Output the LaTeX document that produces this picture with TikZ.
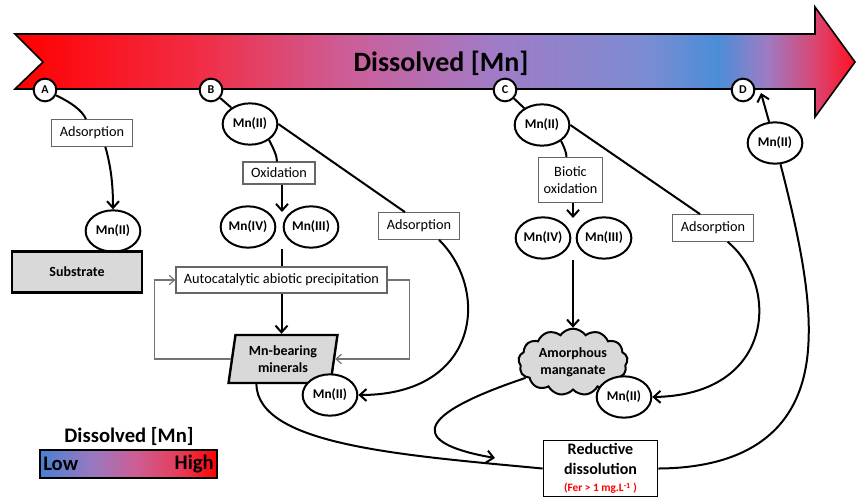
\documentclass[tikz,border=0pt]{standalone}
\usepackage{fontspec}
\setmainfont{Carlito}
\usetikzlibrary{shapes.geometric,shapes.symbols,arrows.meta,calc}

\definecolor{mngrey}{HTML}{D9D9D9}
\definecolor{flowA}{HTML}{FF0000}
\definecolor{flowB}{HTML}{F22D45}
\definecolor{flowC}{HTML}{CC5E98}
\definecolor{flowD}{HTML}{A07CC8}
\definecolor{flowE}{HTML}{7C8CD2}
\definecolor{flowF}{HTML}{4A8ED8}
\definecolor{flowG}{HTML}{9C7CC4}
\definecolor{flowH}{HTML}{DC4470}
\definecolor{flowI}{HTML}{FF1020}
\definecolor{scaleA}{HTML}{4A7FD3}
\definecolor{scaleB}{HTML}{9A78C0}
\definecolor{scaleC}{HTML}{CC5E95}
\definecolor{scaleD}{HTML}{E83A55}

\pgfdeclarehorizontalshading{mnflow}{100bp}{color(0bp)=(flowA); color(25bp)=(flowA);
  color(36bp)=(flowB); color(44.8bp)=(flowC); color(53.7bp)=(flowD); color(62.6bp)=(flowE);
  color(66.8bp)=(flowF); color(69.7bp)=(flowG); color(72.7bp)=(flowH); color(75bp)=(flowI);
  color(100bp)=(flowI)}
\pgfdeclarehorizontalshading{mnscale}{100bp}{color(0bp)=(scaleA); color(25bp)=(scaleA);
  color(40bp)=(scaleB); color(52bp)=(scaleC); color(65bp)=(scaleD); color(75bp)=(flowA);
  color(100bp)=(flowA)}

\begin{document}
\begin{tikzpicture}[x=0.75pt,y=-0.75pt,
  conn/.style={line width=1.5pt},
  flowarr/.style={conn,-{Straight Barb[length=5pt,width=9pt]}},
  loopline/.style={draw=black!55,line width=0.9pt,-{Straight Barb[length=4pt,width=7pt]}},
  letter/.style={circle,draw,line width=1.5pt,fill=white,minimum size=17pt,inner sep=0pt,
    font=\bfseries\fontsize{9}{10}\selectfont},
  mnion/.style={ellipse,draw,line width=1.5pt,fill=white,minimum width=41pt,minimum height=31pt,
    inner sep=0pt,font=\bfseries\fontsize{10}{12}\selectfont},
  process/.style={rectangle,draw=black!60,line width=0.8pt,fill=white,minimum height=20pt,
    inner xsep=6pt,align=center,font=\fontsize{10.7}{13}\selectfont},
  mineral/.style={draw,line width=1.8pt,fill=mngrey,align=center,
    font=\bfseries\fontsize{10.5}{12.5}\selectfont},
  legendtext/.style={font=\bfseries\fontsize{15.5}{18}\selectfont,inner sep=0pt}
]
\useasboundingbox (0,0) rectangle (859,499);

% dissolved Mn band
\shadedraw[shading=mnflow,line width=1.2pt] (15,34) -- (815,34) -- (815,7) -- (855,62)
  -- (815,117) -- (815,89) -- (15,89) -- (43,62) -- cycle;
\node[font=\bfseries\fontsize{21}{24}\selectfont] (flow) at (441,63) {Dissolved [Mn]};

\node[letter] (lA) at (45,90) {A};
\node[letter] (lB) at (211,90) {B};
\node[letter] (lC) at (505,90) {C};
\node[letter] (lD) at (743,90) {D};

% A
\node[process] (adsA) at (92,133) {Adsorption};
\node[mnion] (mA) at (113,231) {Mn(II)};
\node[mineral,minimum width=97.5pt,minimum height=31pt] (sub) at (77,272) {Substrate};

% B
\node[mnion] (mB) at (250,124) {Mn(II)};
\node[process,minimum height=16.5pt] (oxid) at (279,173) {Oxidation};
\node[mnion] (mB4) at (248,227) {Mn(IV)};
\node[mnion] (mB3) at (311,227) {Mn(III)};
\coordinate (gapB) at (282,212);
\coordinate (gapBlo) at (282,249);
\node[process,minimum height=19.5pt] (auto) at (281.5,280) {Autocatalytic abiotic precipitation};
\node[mineral,trapezium,trapezium left angle=80,trapezium right angle=100,trapezium stretches=true,
  minimum width=82pt,minimum height=36pt,inner sep=1pt] (para) at (283,359) {Mn-bearing\\minerals};
\node[mnion] (mBmin) at (330,395) {Mn(II)};
\node[process] (adsB) at (419,226) {Adsorption};

% C
\node[mnion] (mC) at (542,125) {Mn(II)};
\node[process,minimum height=34pt,inner xsep=4pt] (bio) at (570.5,180) {Biotic\\oxidation};
\node[mnion] (mC4) at (543,238) {Mn(IV)};
\node[mnion] (mC3) at (604,238) {Mn(III)};
\coordinate (gapC) at (573,218);
\coordinate (gapClo) at (573,260);
\node[mineral,cloud,cloud puffs=13,cloud puff arc=110,cloud ignores aspect,line width=1.5pt,
  minimum width=82pt,minimum height=50pt,inner sep=0pt] (cloud) at (573,362) {Amorphous\\manganate};
\node[mnion] (mCam) at (624,397) {Mn(II)};
\node[process] (adsC) at (713,228) {Adsorption};
\coordinate (cloudEnd) at (495,458);

% D
\node[mnion] (mD) at (775,143) {Mn(II)};
\coordinate (dTip) at (761,93);
\node[draw,line width=0.9pt,fill=white,anchor=north,minimum width=86pt,inner ysep=2pt,align=center,
  font=\bfseries\fontsize{12}{15}\selectfont] (red) at (600.5,440)
  {Reductive\\dissolution\\[-2pt]{\color{red}\fontsize{8.5}{10}\selectfont(Fer > 1 mg.L\textsuperscript{-1} )}};

% connectors
\draw[conn] (lA) .. controls (70,102) and (82,110) .. ([xshift=-4.5pt]adsA.north);
\draw[flowarr] ([xshift=10pt]adsA.south) .. controls (112,170) and (113,190) .. (mA.north);

\draw[conn] (lB) -- (mB);
\draw[conn] (mB.-40) .. controls +(4,8) and +(0,-6) .. ([xshift=-1.5pt]oxid.north);
\draw[flowarr] (oxid.south -| gapB) -- (gapB);
\draw[conn] (gapBlo) -- (gapBlo |- auto.north);
\draw[flowarr] (auto.south) -- (auto.south |- para.north);
\draw[loopline] (auto.east) -- ++(22,0) |- (para.east);
\draw[loopline] (para.west) -| ([xshift=-15.75pt]auto.west) -- (auto.west);
\draw[conn] (mB.east) -- ([xshift=-10.5pt]adsB.north);
\draw[flowarr] ([xshift=15pt]adsB.south) .. controls (490,290) and (480,395) .. (mBmin.east);
\draw[conn] ([xshift=-20pt]para.south) .. controls (258,445) and (400,455) .. (red.west);

\draw[conn] (lC) -- (mC);
\draw[conn] (mC.-40) .. controls +(3,6) and +(0,-4) .. ([xshift=-3pt]bio.north);
\draw[flowarr] (bio.south -| gapC) -- (gapC);
\draw[flowarr] (gapClo) -- (cloud.north);
\draw[conn] (mC.east) -- ([xshift=-9.75pt]adsC.north);
\draw[flowarr] ([xshift=11pt]adsC.south) .. controls (780,285) and (775,395) .. (mCam.east);
\draw[flowarr] (cloud) .. controls (400,420) and (420,445) .. (cloudEnd);

\draw[flowarr] (mD) -- (dTip);
\draw[conn] (mD) .. controls (800,240) and (812,300) .. (808,350)
  .. controls (800,450) and (720,468) .. (red.east);

% legend
\node[legendtext] (legtitle) at (129,436) {Dissolved [Mn]};
\node[shade,shading=mnscale,draw,line width=1.5pt,minimum width=132.75pt,minimum height=21pt]
  (legbar) at (128.5,464) {};
\node[legendtext,anchor=west] (low) at ([xshift=3pt]legbar.west) {Low};
\node[legendtext,anchor=east] (high) at ([xshift=-3pt]legbar.east) {High};
\end{tikzpicture}
\end{document}
